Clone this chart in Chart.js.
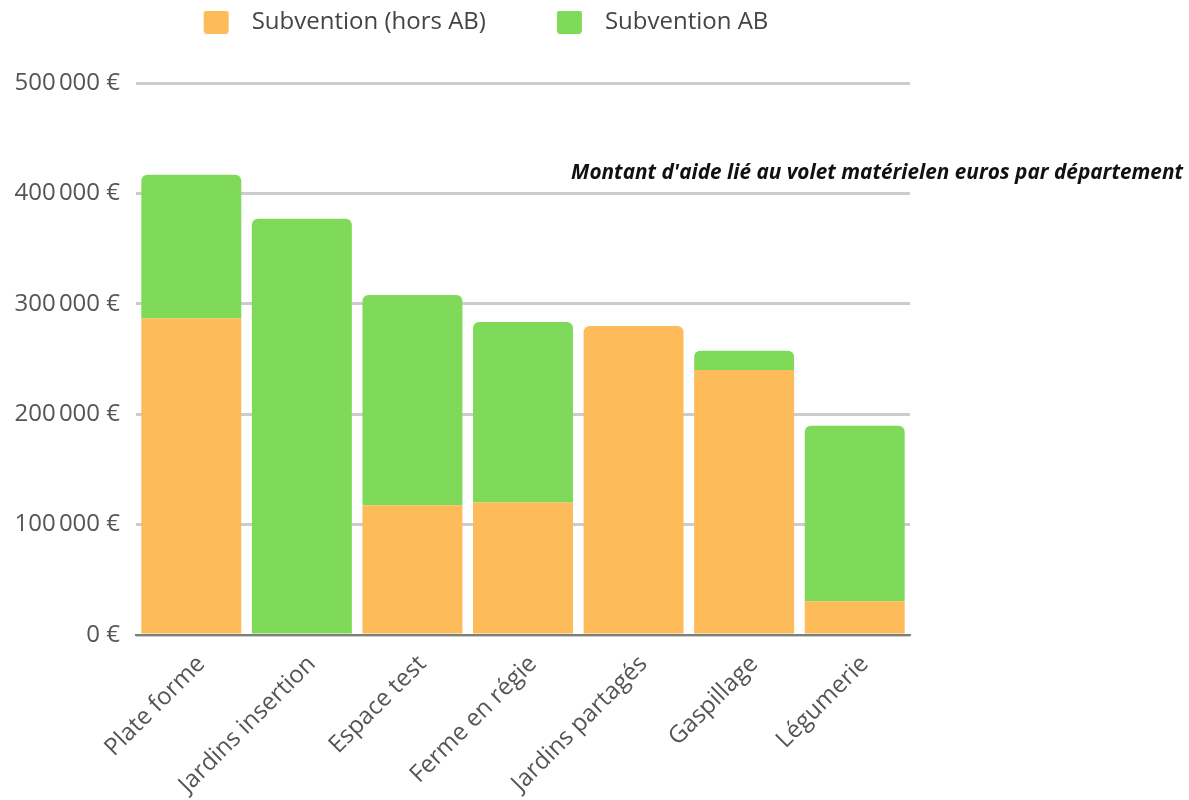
<!DOCTYPE html>
<html>
<head>
<meta charset="utf-8">
<script src="https://cdn.jsdelivr.net/npm/chart.js@4"></script>
<style>
  html, body { margin: 0; padding: 0; background: #fff; }
  #wrap { position: relative; width: 1189px; height: 800px; }
  #titre {
    position: absolute; right: 6px; top: 157px;
    font: italic bold 20.8px "Open Sans", sans-serif; color: #111;
    white-space: nowrap;
  }
</style>
</head>
<body>
<div id="wrap">
  <canvas id="aideChart" width="1189" height="800"></canvas>
  <div id="titre">Montant d'aide lié au volet matérielen euros par département</div>
</div>
<script>
const categories = ['Plate forme', 'Jardins insertion', 'Espace test', 'Ferme en régie', 'Jardins partagés', 'Gaspillage', 'Légumerie'];
const horsAB = [287000, 0, 117500, 120000, 280000, 240000, 30500];
const aideAB = [130000, 377000, 190500, 163500, 0, 17500, 159000];
const yTicks = [0, 100000, 200000, 300000, 400000, 500000];

const orange = '#fdbb5a';
const vert = '#80da5a';

const fmt = new Intl.NumberFormat('fr-FR', { style: 'currency', currency: 'EUR', maximumFractionDigits: 0 });

Chart.defaults.font.family = '"Open Sans", sans-serif';
Chart.defaults.color = '#555';

// legend swatch: blank space on the left, box, then the gap before the text
function swatch(color) {
  const c = document.createElement('canvas');
  c.width = 97; c.height = 23;
  const g = c.getContext('2d');
  g.fillStyle = color;
  g.beginPath();
  g.roundRect(61, 0, 25, 23, 3);
  g.fill();
  return c;
}
const swatches = [swatch(orange), swatch(vert)];

// push the plot down below the legend
const legendSpace = {
  id: 'legendSpace',
  afterInit(chart) {
    const fit = chart.legend.fit;
    chart.legend.fit = function () {
      fit.call(this);
      this.height = 83;
    };
  }
};

const ctx = document.getElementById('aideChart');

new Chart(ctx, {
  type: 'bar',
  data: {
    labels: categories,
    datasets: [{
      label: 'Subvention (hors AB)',
      data: horsAB,
      backgroundColor: orange,
      borderRadius: (c) => aideAB[c.dataIndex] > 0 ? 0 : { topLeft: 6, topRight: 6, bottomLeft: 0, bottomRight: 0 }
    }, {
      label: 'Subvention AB',
      data: aideAB,
      backgroundColor: vert,
      borderRadius: { topLeft: 6, topRight: 6, bottomLeft: 0, bottomRight: 0 }
    }]
  },
  options: {
    responsive: false,
    animation: false,
    layout: { padding: { left: 1, right: 279, top: 0, bottom: 0 } },
    datasets: { bar: { barPercentage: 0.904, categoryPercentage: 1 } },
    plugins: {
      legend: {
        labels: {
          usePointStyle: true, pointStyleWidth: 97, boxHeight: 23, padding: 10,
          font: { size: 24 }, color: '#444',
          generateLabels: (chart) => Chart.defaults.plugins.legend.labels.generateLabels(chart)
            .map((l, i) => ({ ...l, pointStyle: swatches[i] }))
        }
      },
      tooltip: { enabled: false }
    },
    scales: {
      x: {
        stacked: true,
        afterFit: (s) => { s.height = 165; },
        grid: { display: false },
        border: { display: true, color: '#7d8077', width: 2, z: 1 },
        ticks: { maxRotation: 45, minRotation: 45, labelOffset: 10, padding: 7, font: { size: 24 }, color: '#555' }
      },
      y: {
        stacked: true,
        min: 0, max: 500000,
        afterFit: (s) => { s.width = 135; },
        afterBuildTicks: (s) => { s.ticks = yTicks.map(v => ({ value: v })); },
        grid: { color: '#cccccc', lineWidth: 3, drawTicks: false },
        border: { display: false },
        ticks: {
          padding: 16, font: { size: 24 }, color: '#555',
          callback: (v) => fmt.format(v)
        }
      }
    }
  },
  plugins: [legendSpace]
});
</script>
</body>
</html>
